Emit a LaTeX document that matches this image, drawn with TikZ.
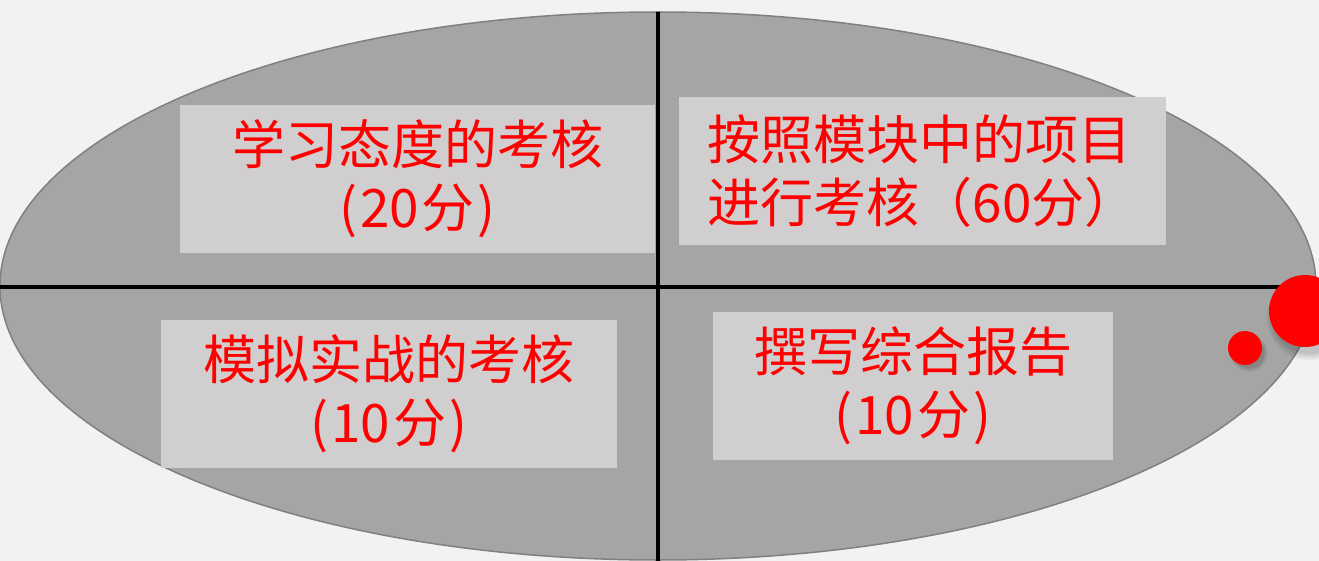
\documentclass[tikz,border=0pt]{standalone}
\usepackage{fontspec}
\newfontfamily\cjk{Noto Sans CJK SC}
\definecolor{bgc}{HTML}{F2F2F2}
\definecolor{ellc}{HTML}{A5A5A5}
\definecolor{ellb}{HTML}{808080}
\definecolor{boxc}{HTML}{D0CECE}
\definecolor{redc}{HTML}{FF0000}
\newcommand{\gp}{\hspace{3pt}}
\begin{document}
\begin{tikzpicture}[x=1pt,y=-1pt,
  txtbox/.style={fill=boxc, inner sep=0pt, text=redc, align=center,
    font=\cjk\fontsize{53}{63}\selectfont},
  divider/.style={draw=black, line width=3.5pt},
  dot/.style={fill=redc, draw=none},
  shade/.style={fill=black, opacity=0.05, draw=none}]
\useasboundingbox (0,0) rectangle (1319,561);
\fill[bgc] (0,0) rectangle (1319,561);
\begin{scope}
  \clip (0,0) rectangle (1319,561);
  \draw[fill=ellc, draw=ellb, line width=1.5pt] (658,286) ellipse [x radius=658, y radius=274];
\end{scope}
\coordinate (vt) at (658,12);
\coordinate (vb) at (658,561);
\coordinate (hl) at (0,287);
\coordinate (hr) at (1319,287);
\draw[divider] (vt) -- (vb);
\draw[divider] (hl) -- (hr);
\node[txtbox, minimum width=475, minimum height=148] (b1) at (417.5,179) {学习态度的考核\\(\gp 20\gp 分\gp)};
\node[txtbox, minimum width=487, minimum height=148, align=left] (b2) at (922.5,171) {按照模块中的项目\\进行考核（60分）};
\node[txtbox, minimum width=456, minimum height=148] (b3) at (389,394) {模拟实战的考核\\(\gp 10\gp 分\gp)};
\node[txtbox, minimum width=400, minimum height=148] (b4) at (913,386) {撰写综合报告\\(\gp 10\gp 分\gp)};
% shadows
\foreach \r in {0,2,4,6} {
  \fill[shade] (1309,318) circle [radius=36+\r];
  \fill[shade] (1249,353) circle [radius=15+\r*0.6];
}
\fill[dot] (1305,311) circle [radius=36] node (c1) {};
\fill[dot] (1245,348) circle [radius=17] node (c2) {};
\end{tikzpicture}
\end{document}
